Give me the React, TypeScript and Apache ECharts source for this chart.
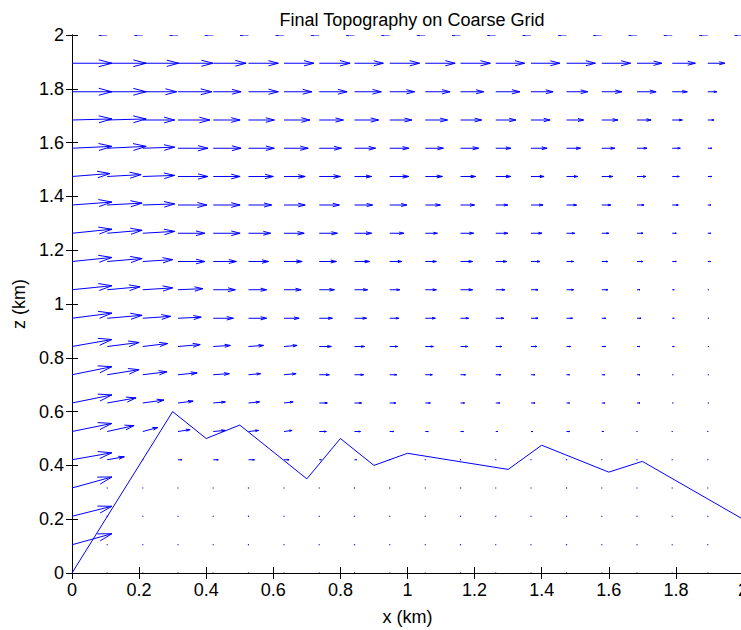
import React, { useEffect, useRef } from "react";
import * as echarts from "echarts";

// Grid nodes (km) of the coarse mesh, 20 x 20
const xGrid = [0, 0.105, 0.211, 0.316, 0.421, 0.526, 0.632, 0.737, 0.842, 0.947, 1.053, 1.158, 1.263, 1.368, 1.474, 1.579, 1.684, 1.789, 1.895, 2];
const zGrid = [0, 0.105, 0.211, 0.316, 0.421, 0.526, 0.632, 0.737, 0.842, 0.947, 1.053, 1.158, 1.263, 1.368, 1.474, 1.579, 1.684, 1.789, 1.895, 2];

// Scaled horizontal flow component (km), one row per z level, bottom to top
const uRows = [
  [0, 0, 0, 0, 0, 0, 0, 0, 0, 0, 0, 0, 0, 0, 0, 0, 0, 0, 0, 0],
  [0.119, 0, 0, 0, 0, 0, 0, 0, 0, 0, 0, 0, 0, 0, 0, 0, 0, 0, 0, 0],
  [0.119, 0, 0, 0, 0, 0, 0, 0, 0, 0, 0, 0, 0, 0, 0, 0, 0, 0, 0, 0],
  [0.119, 0, 0, 0, 0, 0, 0, 0, 0, 0, 0, 0, 0, 0, 0, 0, 0, 0, 0, 0],
  [0.119, 0.051, 0, 0.012, 0.015, 0.018, 0.015, 0.006, 0.006, 0, 0, 0, 0, 0, 0, 0, 0, 0, 0, 0],
  [0.119, 0.08, 0.045, 0.036, 0.036, 0.03, 0.024, 0.021, 0.018, 0.012, 0.009, 0.009, 0.006, 0.006, 0.009, 0.006, 0, 0, 0, 0],
  [0.119, 0.086, 0.063, 0.045, 0.036, 0.033, 0.027, 0.024, 0.021, 0.018, 0.015, 0.012, 0.012, 0.012, 0.009, 0.009, 0.009, 0.003, 0.003, 0],
  [0.119, 0.095, 0.072, 0.057, 0.048, 0.036, 0.036, 0.03, 0.027, 0.021, 0.021, 0.015, 0.015, 0.012, 0.009, 0.009, 0.009, 0.003, 0.003, 0],
  [0.119, 0.095, 0.074, 0.066, 0.051, 0.045, 0.039, 0.036, 0.03, 0.024, 0.024, 0.021, 0.018, 0.018, 0.012, 0.012, 0.009, 0.006, 0.003, 0],
  [0.119, 0.104, 0.083, 0.069, 0.06, 0.054, 0.045, 0.039, 0.036, 0.027, 0.03, 0.024, 0.024, 0.021, 0.018, 0.012, 0.012, 0.006, 0.003, 0],
  [0.119, 0.098, 0.089, 0.074, 0.066, 0.054, 0.051, 0.045, 0.039, 0.03, 0.033, 0.036, 0.027, 0.021, 0.021, 0.018, 0.009, 0.006, 0.003, 0],
  [0.119, 0.104, 0.089, 0.08, 0.069, 0.06, 0.054, 0.051, 0.045, 0.036, 0.033, 0.036, 0.033, 0.027, 0.021, 0.018, 0.018, 0.012, 0.009, 0],
  [0.119, 0.104, 0.095, 0.08, 0.08, 0.066, 0.06, 0.054, 0.051, 0.042, 0.036, 0.039, 0.036, 0.033, 0.024, 0.021, 0.018, 0.012, 0.009, 0],
  [0.119, 0.104, 0.095, 0.086, 0.08, 0.069, 0.063, 0.06, 0.054, 0.051, 0.045, 0.042, 0.036, 0.036, 0.03, 0.027, 0.021, 0.018, 0.009, 0],
  [0.113, 0.101, 0.095, 0.089, 0.08, 0.074, 0.063, 0.063, 0.051, 0.057, 0.051, 0.045, 0.045, 0.039, 0.033, 0.033, 0.027, 0.021, 0.012, 0],
  [0.119, 0.116, 0.095, 0.089, 0.083, 0.077, 0.072, 0.066, 0.063, 0.057, 0.054, 0.054, 0.045, 0.048, 0.042, 0.039, 0.03, 0.024, 0.012, 0],
  [0.119, 0.116, 0.095, 0.095, 0.08, 0.077, 0.077, 0.072, 0.072, 0.066, 0.066, 0.063, 0.06, 0.057, 0.051, 0.048, 0.042, 0.03, 0.018, 0],
  [0.119, 0.116, 0.101, 0.101, 0.083, 0.089, 0.083, 0.083, 0.08, 0.074, 0.074, 0.069, 0.072, 0.066, 0.063, 0.06, 0.057, 0.045, 0.027, 0],
  [0.119, 0.116, 0.107, 0.104, 0.098, 0.089, 0.089, 0.092, 0.086, 0.089, 0.089, 0.089, 0.086, 0.086, 0.086, 0.086, 0.074, 0.069, 0.051, 0],
  [0, -0.025, -0.025, -0.025, -0.025, -0.025, -0.025, -0.025, -0.025, -0.025, -0.025, -0.025, -0.025, -0.025, -0.025, -0.025, -0.025, -0.025, -0.025, -0.025],
];

// Scaled vertical flow component (km), same layout as uRows
const vRows = [
  [0, 0, 0, 0, 0, 0, 0, 0, 0, 0, 0, 0, 0, 0, 0, 0, 0, 0, 0, 0],
  [0.041, 0, 0, 0, 0, 0, 0, 0, 0, 0, 0, 0, 0, 0, 0, 0, 0, 0, 0, 0],
  [0.037, 0, 0, 0, 0, 0, 0, 0, 0, 0, 0, 0, 0, 0, 0, 0, 0, 0, 0, 0],
  [0.041, 0, 0, 0, 0, 0, 0, 0, 0, 0, 0, 0, 0, 0, 0, 0, 0, 0, 0, 0],
  [0.026, 0.011, 0, 0, 0, 0, 0, 0, 0, 0, 0, 0, 0, 0, 0, 0, 0, 0, 0, 0],
  [0.03, 0.022, 0.015, 0.007, 0.004, 0.004, 0.004, 0, 0, 0, 0, 0, 0, 0, 0, 0, 0, 0, 0, 0],
  [0.03, 0.019, 0.011, 0.007, 0.004, 0.004, 0.004, 0, 0, 0, 0, 0, 0, 0, 0, 0, 0, 0, 0, 0],
  [0.03, 0.019, 0.011, 0.007, 0.004, 0.004, 0.004, 0, 0, 0, 0, 0, 0, 0, 0, 0, 0, 0, 0, 0],
  [0.026, 0.015, 0.011, 0.007, 0.004, 0.004, 0.004, 0, 0, 0, 0, 0, 0, 0, 0, 0, 0, 0, 0, 0],
  [0.019, 0.011, 0.007, 0.004, 0, 0, 0, 0, 0, 0, 0, 0, 0, 0, 0, 0, 0, 0, 0, 0],
  [0.015, 0.011, 0.007, 0.004, 0, 0, 0, 0, 0, 0, 0, 0, 0, 0, 0, 0, 0, 0, 0, 0],
  [0.015, 0.011, 0.007, 0, 0, 0, 0, 0, 0, 0, 0, 0, 0, 0, 0, 0, 0, 0, 0, 0],
  [0.015, 0.011, 0.007, 0, 0, 0, 0, 0, 0, 0, 0, 0, 0, 0, 0, 0, 0, 0, 0, 0],
  [0.011, 0.007, 0.004, 0, 0, 0, 0, 0, 0, 0, 0, 0, 0, 0, 0, 0, 0, 0, 0, 0],
  [0.011, 0.007, 0.004, 0, 0, 0, 0, 0, 0, 0, 0, 0, 0, 0, 0, 0, 0, 0, 0, 0],
  [0.007, 0.007, 0.004, 0, 0, 0, 0, 0, 0, 0, 0, 0, 0, 0, 0, 0, 0, 0, 0, 0],
  [0.004, 0.004, 0, 0, 0, 0, 0, 0, 0, 0, 0, 0, 0, 0, 0, 0, 0, 0, 0, 0],
  [0, 0, 0, 0, 0, 0, 0, 0, 0, 0, 0, 0, 0, 0, 0, 0, 0, 0, 0, 0],
  [0, 0, 0, 0, 0, 0, 0, 0, 0, 0, 0, 0, 0, 0, 0, 0, 0, 0, 0, 0],
  [0, 0, 0, 0, 0, 0, 0, 0, 0, 0, 0, 0, 0, 0, 0, 0, 0, 0, 0, 0],
];

// Final topography profile (km)
const topoX = [0, 0.3, 0.4, 0.5, 0.7, 0.8, 0.9, 1.0, 1.3, 1.4, 1.6, 1.7, 2.0];
const topoZ = [0, 0.6, 0.5, 0.55, 0.35, 0.5, 0.4, 0.445, 0.385, 0.475, 0.375, 0.415, 0.2];

const BLUE = "#0000ff";
const FONT = "'Liberation Sans', Arial, sans-serif";
const FONT_SIZE = 18;

export default function App() {
  const ref = useRef<HTMLDivElement>(null);

  useEffect(() => {
    if (!ref.current) return;
    const chart = echarts.init(ref.current, undefined, { renderer: "svg" });

    const quiverData: number[][] = [];
    zGrid.forEach((z, j) => {
      xGrid.forEach((x, i) => {
        quiverData.push([x, z, uRows[j][i], vRows[j][i]]);
      });
    });
    const topoData = topoX.map((x, k) => [x, topoZ[k]]);

    // arrowhead proportions, as in the classic quiver
    const alpha = 0.33;
    const beta = 0.33;

    const renderArrow = (params: any, api: any) => {
      const x = api.value(0);
      const z = api.value(1);
      const u = api.value(2);
      const v = api.value(3);
      const p0 = api.coord([x, z]);
      if (u === 0 && v === 0) {
        return {
          type: "rect",
          shape: { x: p0[0] - 0.6, y: p0[1] - 0.6, width: 1.2, height: 1.2 },
          style: { fill: BLUE },
        };
      }
      const tx = x + u;
      const tz = z + v;
      const p1 = api.coord([tx, tz]);
      const b1 = api.coord([tx - alpha * (u + beta * v), tz - alpha * (v - beta * u)]);
      const b2 = api.coord([tx - alpha * (u - beta * v), tz - alpha * (v + beta * u)]);
      const style = { stroke: BLUE, lineWidth: 1, fill: "none" };
      return {
        type: "group",
        children: [
          { type: "polyline", shape: { points: [p0, p1] }, style },
          { type: "polyline", shape: { points: [b1, p1, b2] }, style },
        ],
      };
    };

    const tickLabel = (val: number) => String(Math.round(val * 10) / 10);

    chart.setOption({
      animation: false,
      backgroundColor: "#ffffff",
      title: {
        text: "Final Topography on Coarse Grid",
        left: 407,
        top: 6,
        textAlign: "center",
        textStyle: { fontFamily: FONT, fontSize: FONT_SIZE, fontWeight: "normal", color: "#000" },
      },
      grid: { left: 72, top: 35, width: 671, height: 538, containLabel: false, outerBoundsMode: "none" },
      xAxis: [
        {
          type: "value",
          min: 0,
          max: 2,
          interval: 0.2,
          name: "x (km)",
          nameLocation: "middle",
          nameGap: 35,
          nameTextStyle: { fontFamily: FONT, fontSize: FONT_SIZE, color: "#000" },
          axisLine: { show: true, lineStyle: { color: "#000", width: 1 } },
          axisTick: { show: true, inside: true, length: 6, lineStyle: { color: "#000" } },
          axisLabel: { fontFamily: FONT, fontSize: FONT_SIZE, color: "#000", margin: 8, formatter: tickLabel },
          splitLine: { show: false },
        },
        {
          type: "value",
          position: "top",
          min: 0,
          max: 2,
          interval: 0.2,
          axisLine: { show: true, lineStyle: { color: "#000", width: 1 } },
          axisTick: { show: true, inside: true, length: 6, lineStyle: { color: "#000" } },
          axisLabel: { show: false },
          splitLine: { show: false },
        },
      ],
      yAxis: [
        {
          type: "value",
          min: 0,
          max: 2,
          interval: 0.2,
          name: "z (km)",
          nameLocation: "middle",
          nameGap: 41,
          nameTextStyle: { fontFamily: FONT, fontSize: FONT_SIZE, color: "#000" },
          axisLine: { show: true, lineStyle: { color: "#000", width: 1 } },
          axisTick: { show: true, inside: true, length: 6, lineStyle: { color: "#000" } },
          axisLabel: { fontFamily: FONT, fontSize: FONT_SIZE, color: "#000", margin: 8, formatter: tickLabel },
          splitLine: { show: false },
        },
        {
          type: "value",
          position: "right",
          min: 0,
          max: 2,
          interval: 0.2,
          axisLine: { show: true, lineStyle: { color: "#000", width: 1 } },
          axisTick: { show: true, inside: true, length: 6, lineStyle: { color: "#000" } },
          axisLabel: { show: false },
          splitLine: { show: false },
        },
      ],
      series: [
        {
          type: "custom",
          name: "velocity",
          xAxisIndex: 0,
          yAxisIndex: 0,
          clip: true,
          renderItem: renderArrow,
          encode: { x: 0, y: 1 },
          data: quiverData,
          silent: true,
        },
        {
          type: "line",
          name: "topography",
          xAxisIndex: 0,
          yAxisIndex: 0,
          data: topoData,
          symbol: "none",
          lineStyle: { color: BLUE, width: 1 },
          silent: true,
        },
      ],
    });

    return () => chart.dispose();
  }, []);

  return (
    <div
      ref={ref}
      style={{ position: "fixed", left: 0, top: 0, width: 741, height: 630, background: "#fff" }}
    />
  );
}
